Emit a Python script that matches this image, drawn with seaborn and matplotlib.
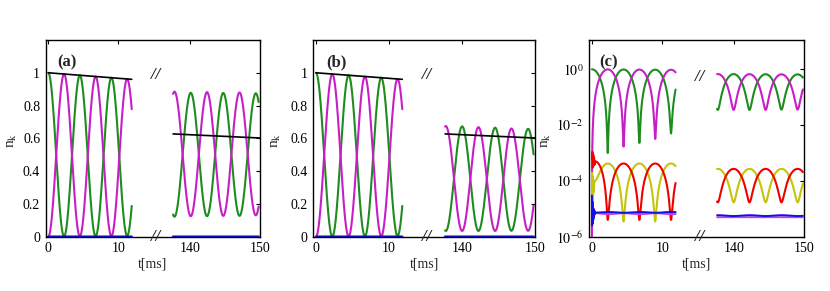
import numpy as np
import pandas as pd
import matplotlib
matplotlib.use("Agg")
import matplotlib.pyplot as plt
import seaborn as sns

# ---------------- data ----------------
# time windows shown on the broken axis [ms]
left_window = [0.0, 11.9]
right_window = [137.6, 149.8]
xtick_times = [0, 10, 140, 150]
xtick_labels = ["0", "10", "140", "150"]

# extrema (time [ms], n_k) of every oscillating population
# left window (same in all three panels)
left_green_t = [0.0, 2.25, 4.5, 6.75, 9.0, 11.25, 13.5]
left_green_v = [1.0, 1.0e-3, 0.985, 2.3e-3, 0.97, 5.0e-3, 0.955]
left_magenta_t = [0.0, 2.25, 4.5, 6.75, 9.0, 11.25, 13.5]
left_magenta_v = [1.0e-6, 0.992, 1.7e-3, 0.977, 3.2e-3, 0.962, 4.0e-3]

# right window, panel (a)
right_a_green_t = [137.8, 140.12, 142.44, 144.76, 147.08, 149.4, 151.72]
right_a_green_v = [0.122, 0.878, 0.125, 0.877, 0.127, 0.875, 0.13]
right_a_magenta_t = [137.8, 140.12, 142.44, 144.76, 147.08, 149.4, 151.72]
right_a_magenta_v = [0.885, 0.125, 0.882, 0.127, 0.88, 0.13, 0.878]

# right window, panels (b) and (c)
right_b_green_t = [137.7, 139.95, 142.2, 144.5, 146.75, 149.05, 151.3]
right_b_green_v = [0.035, 0.673, 0.035, 0.665, 0.036, 0.658, 0.036]
right_b_magenta_t = [137.7, 139.95, 142.2, 144.5, 146.75, 149.05, 151.3]
right_b_magenta_v = [0.675, 0.035, 0.668, 0.035, 0.66, 0.036, 0.652]

# weak modes, panel (c)
left_red_t = [0.0, 0.06, 0.12, 0.18, 0.24, 0.3, 0.38, 0.46, 2.25, 4.5, 6.75, 9.0, 11.25, 13.5]
left_red_v = [6e-4, 1.1e-3, 3e-4, 9e-4, 3.5e-4, 7e-4, 3.8e-4, 5e-4, 4e-6, 4.2e-4, 4e-6, 4.2e-4, 4e-6, 4.2e-4]
left_yellow_t = [0.0, 0.05, 0.1, 0.15, 0.2, 0.25, 0.3, 0.4, 2.25, 4.5, 6.75, 9.0, 11.25, 13.5]
left_yellow_v = [2e-4, 3e-5, 1.5e-4, 1.2e-5, 1e-4, 4e-5, 8e-5, 1e-4, 4.2e-4, 3.5e-6, 4.2e-4, 3.5e-6, 4.2e-4, 3.5e-6]
left_blue_t = [0.0, 0.04, 0.08, 0.12, 0.16, 0.2, 0.24, 0.28, 0.32, 0.36, 0.4, 0.5, 2.25, 4.5, 6.75, 9.0, 11.25, 13.5]
left_blue_v = [3e-5, 2.5e-6, 1.8e-5, 3e-6, 1.2e-5, 4e-6, 1e-5, 5e-6, 9e-6, 6e-6, 8e-6, 7.3e-6, 7.7e-6, 7.2e-6, 7.7e-6, 7.2e-6, 7.7e-6, 7.2e-6]
left_pink_t = [0.5, 2.25, 4.5, 6.75, 9.0, 11.25, 13.5]
left_pink_v = [7.0e-6, 6.4e-6, 7.0e-6, 6.4e-6, 7.0e-6, 6.4e-6, 7.0e-6]

right_red_t = [137.7, 139.95, 142.2, 144.5, 146.75, 149.05, 151.3]
right_red_v = [1.7e-5, 2.7e-4, 1.7e-5, 2.7e-4, 1.7e-5, 2.7e-4, 1.7e-5]
right_yellow_t = [137.7, 139.95, 142.2, 144.5, 146.75, 149.05, 151.3]
right_yellow_v = [2.7e-4, 1.7e-5, 2.7e-4, 1.7e-5, 2.7e-4, 1.7e-5, 2.7e-4]
right_blue_t = [137.7, 139.95, 142.2, 144.5, 146.75, 149.05, 151.3]
right_blue_v = [5.9e-6, 5.5e-6, 5.9e-6, 5.5e-6, 5.9e-6, 5.5e-6, 5.9e-6]
right_pink_t = [137.7, 151.3]
right_pink_v = [5.0e-6, 5.0e-6]

# decay envelopes (black lines) in panels (a) and (b)
env_left_t = [0.0, 11.9]
env_left_v = [1.0, 0.96]
env_right_t = [137.6, 150.0]
env_right_v = [0.627, 0.602]

# ---------------- helpers ----------------
BREAK_SHIFT = 119.8  # right window drawn at t - BREAK_SHIFT


def to_u(t):
    t = np.asarray(t, float)
    return np.where(t > 60, t - BREAK_SHIFT, t)


def wave(ext_t, ext_v, window, n=2500):
    et = np.asarray(ext_t, float)
    ev = np.asarray(ext_v, float)
    t = np.linspace(window[0], window[1], n)
    t = np.union1d(t, et[(et >= window[0]) & (et <= window[1])])
    i = np.clip(np.searchsorted(et, t, side="right") - 1, 0, len(et) - 2)
    s = (t - et[i]) / (et[i + 1] - et[i])
    v = ev[i] + (ev[i + 1] - ev[i]) * (1 - np.cos(np.pi * s)) / 2
    return t, v


GREEN = "#1e8c1e"
MAGENTA = "#c81ec8"
RED = "#f00000"
YELLOW = "#c4c40c"
BLUE = "#1010e8"
PINK = "#d040d0"


def draw(ax, ext_t, ext_v, window, color, lw=1.5):
    t, v = wave(ext_t, ext_v, window)
    df = pd.DataFrame({"u": to_u(t), "n": v})
    sns.lineplot(data=df, x="u", y="n", ax=ax, color=color, lw=lw,
                 estimator=None, sort=False, legend=False)


def draw_line(ax, tt, vv, color="black", lw=1.2):
    df = pd.DataFrame({"u": to_u(tt), "n": vv})
    sns.lineplot(data=df, x="u", y="n", ax=ax, color=color, lw=lw,
                 estimator=None, sort=False, legend=False)


# ---------------- figure ----------------
sns.set_theme(style="white")
plt.rcParams["font.family"] = ["Liberation Serif", "DejaVu Serif"]
plt.rcParams["mathtext.fontset"] = "stix"

W, H = 830, 291
fig = plt.figure(figsize=(W / 100, H / 100), dpi=100)
fig.patch.set_facecolor("white")

panels = [("a", 45.7, 260.0), ("b", 313.3, 535.0), ("c", 589.3, 804.3)]
top_px, bot_px = 40.0, 236.7
ylab_x = {"a": -0.125, "b": -0.135, "c": -0.170}
tag_x = {"a": 0.098, "b": 0.106, "c": 0.088}

for name, x0, x1 in panels:
    ax = fig.add_axes([x0 / W, (H - bot_px) / H, (x1 - x0) / W, (bot_px - top_px) / H])
    ax.set_facecolor("white")
    if name in ("a", "b"):
        if name == "a":
            rg_t, rg_v, rm_t, rm_v = right_a_green_t, right_a_green_v, right_a_magenta_t, right_a_magenta_v
        else:
            rg_t, rg_v, rm_t, rm_v = right_b_green_t, right_b_green_v, right_b_magenta_t, right_b_magenta_v
        draw(ax, left_green_t, left_green_v, left_window, GREEN)
        draw(ax, left_magenta_t, left_magenta_v, left_window, MAGENTA)
        draw(ax, rg_t, rg_v, right_window, GREEN)
        draw(ax, rm_t, rm_v, right_window, MAGENTA)
        draw(ax, left_blue_t, left_blue_v, left_window, BLUE, lw=1.8)
        draw(ax, right_blue_t, right_blue_v, right_window, BLUE, lw=1.8)
        draw_line(ax, env_left_t, env_left_v)
        draw_line(ax, env_right_t, env_right_v)
        ax.set_ylim(0, 1.2)
        ax.set_yticks([0, 0.2, 0.4, 0.6, 0.8, 1.0])
        ax.set_yticklabels(["0", "0.2", "0.4", "0.6", "0.8", "1"])
        gap_y = 0.822
    else:
        ax.set_yscale("log")
        draw(ax, left_green_t, left_green_v, left_window, GREEN)
        draw(ax, left_magenta_t, left_magenta_v, left_window, MAGENTA)
        draw(ax, right_b_green_t, right_b_green_v, right_window, GREEN)
        draw(ax, right_b_magenta_t, right_b_magenta_v, right_window, MAGENTA)
        draw(ax, left_yellow_t, left_yellow_v, left_window, YELLOW)
        draw(ax, right_yellow_t, right_yellow_v, right_window, YELLOW)
        draw(ax, left_red_t, left_red_v, left_window, RED)
        draw(ax, right_red_t, right_red_v, right_window, RED)
        draw(ax, left_pink_t, left_pink_v, left_window, PINK, lw=1.4)
        draw(ax, right_pink_t, right_pink_v, right_window, PINK, lw=1.4)
        draw(ax, left_blue_t, left_blue_v, left_window, BLUE, lw=1.4)
        draw(ax, right_blue_t, right_blue_v, right_window, BLUE, lw=1.4)
        ax.set_ylim(1e-6, 10 ** 1.05)
        ax.set_yticks([1e0, 1e-2, 1e-4, 1e-6])
        ax.set_yticklabels([r"$10^{0}$", r"$10^{-2}$", r"$10^{-4}$", r"$10^{-6}$"])
        ax.yaxis.set_minor_locator(matplotlib.ticker.NullLocator())
        gap_y = 0.813

    ax.set_xlim(-0.37, 30.2)
    ax.set_xticks(to_u(xtick_times))
    ax.set_xticklabels(xtick_labels)
    ax.tick_params(direction="in", top=True, right=True, length=3, width=0.8,
                   labelsize=10, pad=4, colors="black")
    for sp in ax.spines.values():
        sp.set_color("black")
        sp.set_linewidth(1.0)
        sp.set_visible(True)

    ax.set_xlabel("t[ms]", fontsize=10, labelpad=1)
    ax.xaxis.set_label_coords(0.5, -0.108)
    ax.set_ylabel(r"n$_{\rm k}$", fontsize=11)
    ax.yaxis.set_label_coords(ylab_x[name], 0.49)

    ax.text(tag_x[name], 0.885, f"({name})", transform=ax.transAxes,
            ha="center", va="center", fontsize=12, fontweight="bold")
    for gy in (gap_y, 0.0):
        ax.text(0.512, gy, "//", transform=ax.transAxes, ha="center", va="center",
                fontsize=12, fontweight="bold", fontstyle="italic", clip_on=False)

fig.savefig("out.png", dpi=100, facecolor="white")
